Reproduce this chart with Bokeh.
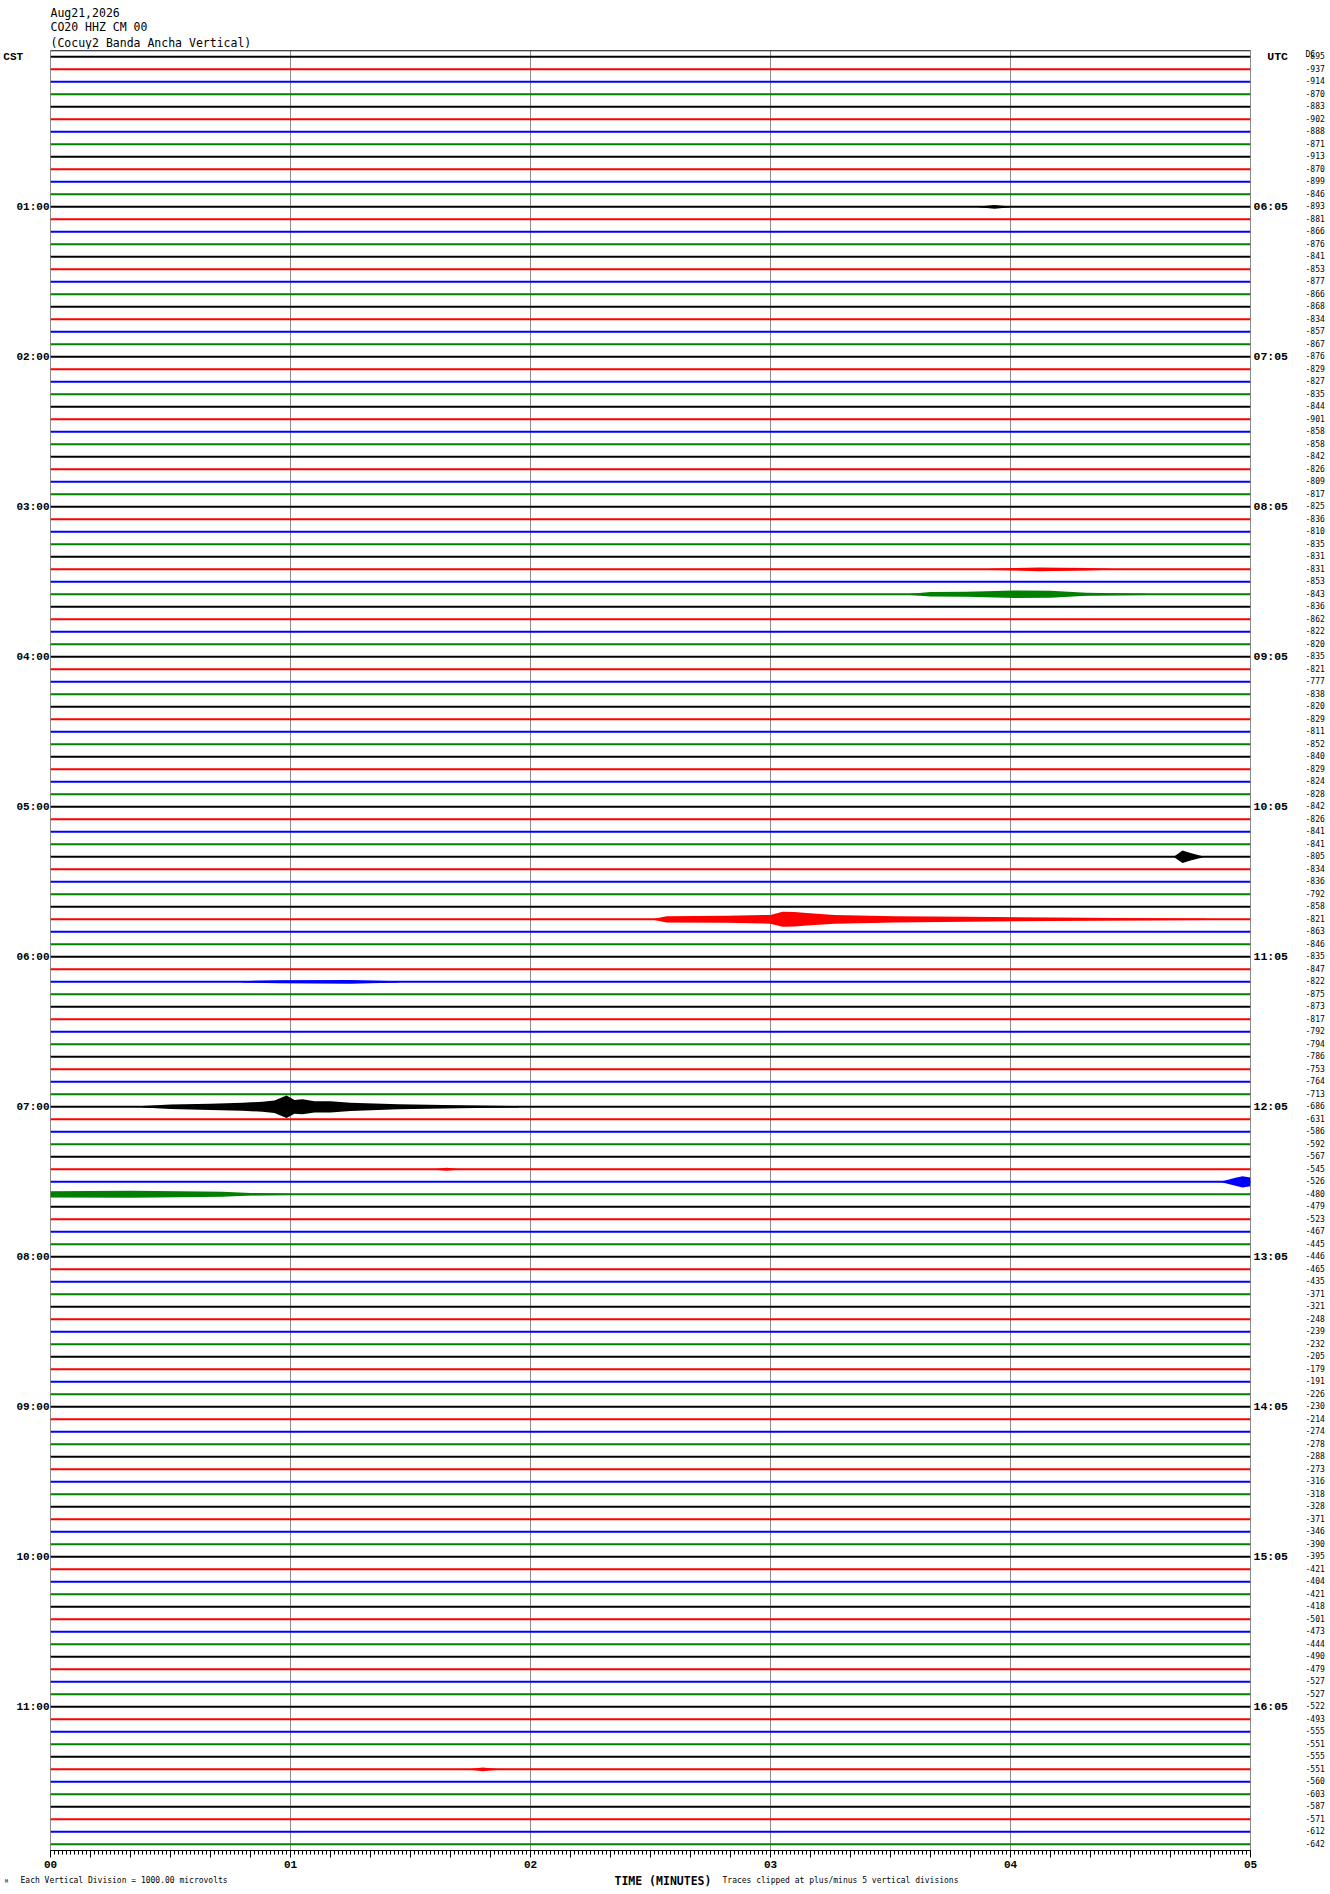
from bokeh.plotting import figure
from bokeh.layouts import column
from bokeh.models import Range1d, LinearAxis, FixedTicker, Grid, Span, ColumnDataSource
from bokeh.core.properties import value
from bokeh.embed import file_html
from bokeh.resources import INLINE

# ---------------- data ----------------
header_lines = ["Aug21,2026", "CO20 HHZ CM 00", "(Cocuy2 Banda Ancha Vertical)"]
left_zone = "CST"
right_zone = "UTC"
dc_mark = "DC"

trace_seconds = 300          # each line = 5 minutes
minute_labels = ["00", "01", "02", "03", "04", "05"]
cst_labels = ["01:00", "02:00", "03:00", "04:00", "05:00", "06:00",
              "07:00", "08:00", "09:00", "10:00", "11:00"]
utc_labels = ["06:05", "07:05", "08:05", "09:05", "10:05", "11:05",
              "12:05", "13:05", "14:05", "15:05", "16:05"]
traces_per_hour = 12

trace_offsets = [
    -895, -937, -914, -870, -883, -902, -888, -871, -913, -870, -899, -846,
    -893, -881, -866, -876, -841, -853, -877, -866, -868, -834, -857, -867,
    -876, -829, -827, -835, -844, -901, -858, -858, -842, -826, -809, -817,
    -825, -836, -810, -835, -831, -831, -853, -843, -836, -862, -822, -820,
    -835, -821, -777, -838, -820, -829, -811, -852, -840, -829, -824, -828,
    -842, -826, -841, -841, -805, -834, -836, -792, -858, -821, -863, -846,
    -835, -847, -822, -875, -873, -817, -792, -794, -786, -753, -764, -713,
    -686, -631, -586, -592, -567, -545, -526, -480, -479, -523, -467, -445,
    -446, -465, -435, -371, -321, -248, -239, -232, -205, -179, -191, -226,
    -230, -214, -274, -278, -288, -273, -316, -318, -328, -371, -346, -390,
    -395, -421, -404, -421, -418, -501, -473, -444, -490, -479, -527, -527,
    -522, -493, -555, -551, -555, -551, -560, -603, -587, -571, -612, -642,
]
trace_palette = ["#000000", "#ff0000", "#0000ff", "#007f00"]

# seismic bursts: trace number, times (s) and half-amplitude envelope (vertical divisions)
event_traces = [84, 69, 43, 41, 91, 90, 64, 74, 12, 89, 137]
event_times = [
    [23, 30, 40, 48, 53, 56, 59, 61, 63, 66, 70, 75, 87, 102, 117],
    [151, 154, 169, 180, 183, 186, 189, 196, 211, 229, 259, 289],
    [215, 220, 229, 241, 250, 259, 274],
    [235, 247, 259, 265],
    [0, 20, 38, 43, 50, 60],
    [293, 296, 298, 300],
    [281, 283, 285, 288],
    [48, 57, 75, 87],
    [232, 236, 240],
    [96, 99, 102],
    [105, 108, 112],
]
event_amps = [
    [0.06, 0.18, 0.25, 0.32, 0.4, 0.5, 0.9, 0.55, 0.6, 0.45, 0.45, 0.33, 0.2, 0.12, 0.05],
    [0.05, 0.25, 0.28, 0.35, 0.6, 0.58, 0.5, 0.35, 0.25, 0.2, 0.12, 0.05],
    [0.05, 0.18, 0.2, 0.3, 0.28, 0.12, 0.05],
    [0.05, 0.15, 0.1, 0.04],
    [0.25, 0.28, 0.22, 0.2, 0.1, 0.05],
    [0.05, 0.3, 0.45, 0.35],
    [0.05, 0.5, 0.3, 0.05],
    [0.05, 0.12, 0.15, 0.05],
    [0.03, 0.15, 0.03],
    [0.03, 0.12, 0.03],
    [0.03, 0.15, 0.03],
]

notes_text = ["M", "Each Vertical Division = 1000.00 microvolts",
              "TIME (MINUTES)", "Traces clipped at plus/minus 5 vertical divisions"]
notes_x = [-11.4, -7.5, 141, 168]          # seconds on the time scale
notes_size = ["5px", "8px", "11.5px", "8px"]
notes_style = ["normal", "normal", "bold", "normal"]

# ---------------- layout constants ----------------
W = 1328
LEFT = 50
RIGHT = W - 1250
SPP = 4.0                      # pixels per second
U = 10                         # y units per trace line
n = len(trace_offsets)
MONO = "DejaVu Sans Mono"

full_x = Range1d(-LEFT / SPP, (W - LEFT) / SPP)

# ---------------- header ----------------
head_h = 49
head = figure(width=W, height=head_h, x_range=full_x, y_range=Range1d(head_h, 0),
              x_axis_type=None, y_axis_type=None, output_backend="svg",
              toolbar_location=None, min_border=0, outline_line_color=None,
              frame_align=False)
head.text(x=[0, 0, 0], y=[12, 26, 42], text=header_lines,
          text_font=value(MONO), text_font_size=value("11.5px"),
          text_baseline="middle", text_align="left", text_color="black")

# ---------------- main helicorder ----------------
p = figure(width=W, height=1 + 1800 + 24,
           x_range=Range1d(0, trace_seconds), y_range=Range1d(-(n - 0.5) * U, 0.5 * U),
           x_axis_type=None, y_axis_type=None,
           output_backend="svg", toolbar_location=None,
           min_border_left=LEFT, min_border_right=RIGHT,
           min_border_top=1, min_border_bottom=24, frame_align=False)
p.background_fill_color = "white"
p.border_fill_color = "white"
p.outline_line_color = "#8c8c8c"
p.outline_line_width = 1

p.add_layout(Grid(dimension=0, ticker=FixedTicker(ticks=[60 * k for k in range(1, 5)]),
                  grid_line_color="#8c8c8c", grid_line_width=1))

src = ColumnDataSource(dict(
    x0=[0] * n, x1=[trace_seconds] * n,
    y=[-i * U for i in range(n)],
    c=[trace_palette[i % 4] for i in range(n)],
))
p.segment(x0="x0", x1="x1", y0="y", y1="y", source=src, line_color="c", line_width=2)

for tr, ts, am in zip(event_traces, event_times, event_amps):
    es = ColumnDataSource(dict(t=ts,
                               lo=[(-tr - a) * U for a in am],
                               hi=[(-tr + a) * U for a in am]))
    p.varea(x="t", y1="lo", y2="hi", source=es, fill_color=trace_palette[tr % 4])

p.add_layout(Span(location=0.5 * U, dimension="width", line_color="black", line_width=1.5))

# bottom time axis
major = list(range(0, trace_seconds + 1, 10))
minor = list(range(0, trace_seconds + 1, 1))
overrides = {t: "" for t in major}
for k, lab in enumerate(minute_labels):
    overrides[60 * k] = lab
xax = LinearAxis(ticker=FixedTicker(ticks=major, minor_ticks=minor),
                 major_label_overrides=overrides,
                 major_tick_in=0, major_tick_out=7,
                 minor_tick_in=0, minor_tick_out=4,
                 axis_line_color="black", major_tick_line_color="black",
                 minor_tick_line_color="black",
                 major_label_standoff=3,
                 major_label_text_font="Liberation Mono",
                 major_label_text_font_style="bold",
                 major_label_text_font_size="11px",
                 major_label_text_color="black")
p.add_layout(xax, "below")

hour_ticks = [-(k + 1) * traces_per_hour * U for k in range(len(cst_labels))]
nb = "\u00a0"


def side_axis(ticks, labels, standoff, font, size, style):
    return LinearAxis(ticker=FixedTicker(ticks=ticks, minor_ticks=[]),
                      major_label_overrides=dict(zip(ticks, labels)),
                      axis_line_color=None, major_tick_line_color=None,
                      minor_tick_line_color=None,
                      major_tick_in=0, major_tick_out=0, minor_tick_in=0, minor_tick_out=0,
                      major_label_standoff=standoff,
                      major_label_text_font=font,
                      major_label_text_font_style=style,
                      major_label_text_font_size=size,
                      major_label_text_color="black")


p.add_layout(side_axis([0] + hour_ticks, [left_zone + nb * 4] + cst_labels, 1,
                       "Liberation Mono", "11px", "bold"), "left")
p.add_layout(side_axis([0] + hour_ticks, [nb * 2 + right_zone] + utc_labels, 3,
                       "Liberation Mono", "11.5px", "bold"), "right")
trace_ticks = [-i * U for i in range(n)]
p.add_layout(side_axis([4] + trace_ticks, [dc_mark] + [str(v) for v in trace_offsets], 14,
                       MONO, "8px", "normal"), "right")

# ---------------- footer notes ----------------
foot_h = 18
foot = figure(width=W, height=foot_h, x_range=full_x, y_range=Range1d(foot_h, 0),
              x_axis_type=None, y_axis_type=None, output_backend="svg",
              toolbar_location=None, min_border=0, outline_line_color=None,
              frame_align=False)
fsrc = ColumnDataSource(dict(x=notes_x, y=[6] * len(notes_x), t=notes_text,
                             s=notes_size, st=notes_style))
foot.text(x="x", y="y", text="t", source=fsrc, text_font=value(MONO),
          text_font_size="s", text_font_style="st",
          text_baseline="middle", text_align="left", text_color="black")

layout = column(head, p, foot, spacing=0)
open("out.html", "w").write(file_html(layout, INLINE))
